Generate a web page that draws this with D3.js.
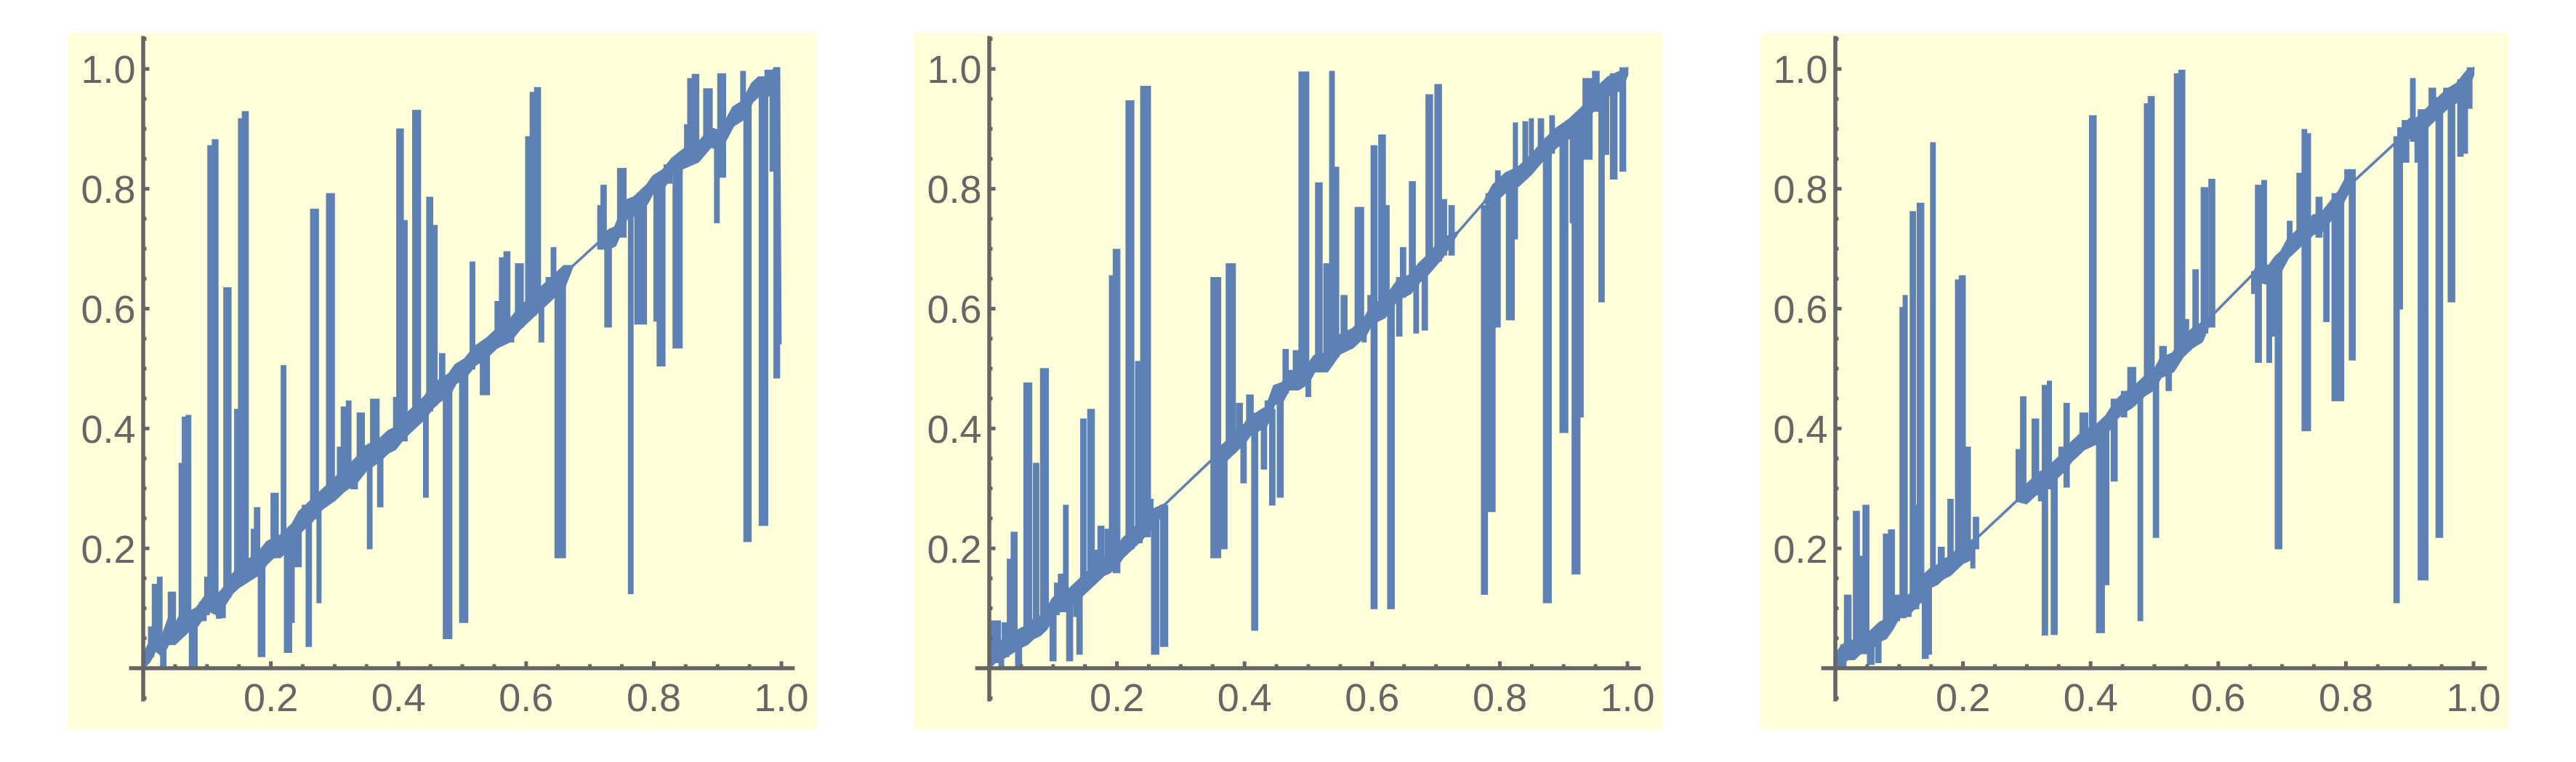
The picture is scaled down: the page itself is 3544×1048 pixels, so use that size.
<!DOCTYPE html>
<html>
<head>
<meta charset="utf-8">
<script src="https://cdn.jsdelivr.net/npm/d3@7"></script>
<style>
  body { margin: 0; background: #ffffff; }
  svg { display: block; }
</style>
</head>
<body>
<svg></svg>
<script>
// Tick values (same for both axes of every panel)
let majorTicks = [0.2, 0.4, 0.6, 0.8, 1.0];
let minorTicksX = [0.05, 0.1, 0.15, 0.25, 0.3, 0.35, 0.45, 0.5, 0.55, 0.65, 0.7, 0.75, 0.85, 0.9, 0.95];
let minorTicksY = [-0.05, 0.05, 0.1, 0.15, 0.25, 0.3, 0.35, 0.45, 0.5, 0.55, 0.65, 0.7, 0.75, 0.85, 0.9, 0.95, 1.05];

// Panel 1: dense core of the line [x, low, high] and spikes [x0, x1, low, high]
let core1 = [
  [0, 0.0, 0.02], [0.01, 0.01, 0.04], [0.02, 0.03, 0.06], [0.03, 0.02, 0.05], [0.04, 0.04, 0.08], [0.05, 0.04, 0.07],
  [0.06, 0.05, 0.09], [0.07, 0.06, 0.09], [0.085, 0.07, 0.1], [0.095, 0.085, 0.115], [0.105, 0.095, 0.13],
  [0.115, 0.09, 0.12], [0.125, 0.1, 0.13], [0.14, 0.125, 0.155], [0.15, 0.135, 0.165], [0.165, 0.145, 0.18],
  [0.18, 0.155, 0.19], [0.195, 0.175, 0.21], [0.205, 0.185, 0.215], [0.215, 0.185, 0.22], [0.235, 0.205, 0.24],
  [0.245, 0.225, 0.26], [0.255, 0.235, 0.27], [0.265, 0.245, 0.28], [0.28, 0.265, 0.295], [0.3, 0.28, 0.315],
  [0.315, 0.295, 0.33], [0.335, 0.31, 0.35], [0.35, 0.33, 0.37], [0.37, 0.345, 0.38], [0.385, 0.36, 0.395],
  [0.395, 0.365, 0.4], [0.41, 0.385, 0.42], [0.42, 0.395, 0.43], [0.44, 0.415, 0.45], [0.455, 0.435, 0.47],
  [0.465, 0.445, 0.48], [0.48, 0.455, 0.49], [0.49, 0.475, 0.505], [0.505, 0.485, 0.515], [0.52, 0.505, 0.535],
  [0.54, 0.52, 0.55], [0.555, 0.535, 0.565], [0.575, 0.545, 0.58], [0.59, 0.565, 0.6], [0.6, 0.575, 0.61],
  [0.625, 0.6, 0.635], [0.64, 0.615, 0.65], [0.66, 0.635, 0.67], [0.673, 0.67, 0.67], [0.714, 0.71, 0.71],
  [0.73, 0.7, 0.73], [0.74, 0.705, 0.735], [0.758, 0.75, 0.78], [0.77, 0.755, 0.785], [0.79, 0.775, 0.805],
  [0.8, 0.795, 0.82], [0.815, 0.8, 0.83], [0.83, 0.825, 0.85], [0.848, 0.835, 0.865], [0.87, 0.845, 0.875],
  [0.89, 0.87, 0.9], [0.905, 0.865, 0.895], [0.915, 0.885, 0.915], [0.925, 0.905, 0.935], [0.94, 0.915, 0.945],
  [0.955, 0.945, 0.975], [0.965, 0.955, 0.985], [0.98, 0.955, 0.985], [0.99, 0.975, 1.0], [0.9966, 0.98, 1.0],
  [0.999, 0.54, 0.54]
];
let spikes1 = [
  [0.010, 0.016, 0.02, 0.067], [0.016, 0.022, 0.03, 0.138], [0.024, 0.029, 0.04, 0.15], [0.029, 0.035, 0.0, 0.04],
  [0.041, 0.050, 0.05, 0.125], [0.058, 0.063, 0.06, 0.34], [0.063, 0.069, 0.06, 0.417], [0.069, 0.074, 0.07, 0.42],
  [0.074, 0.084, 0.0, 0.08], [0.090, 0.098, 0.08, 0.108], [0.098, 0.103, 0.09, 0.15], [0.103, 0.109, 0.1, 0.87],
  [0.110, 0.1166, 0.1, 0.88], [0.1166, 0.122, 0.084, 0.12], [0.122, 0.128, 0.085, 0.12], [0.128, 0.137, 0.12, 0.633],
  [0.145, 0.151, 0.14, 0.43], [0.151, 0.157, 0.14, 0.915], [0.157, 0.164, 0.15, 0.927], [0.171, 0.176, 0.16, 0.23],
  [0.176, 0.182, 0.16, 0.266], [0.182, 0.19, 0.02, 0.18], [0.202, 0.211, 0.19, 0.29], [0.218, 0.223, 0.2, 0.503],
  [0.223, 0.232, 0.027, 0.21], [0.232, 0.236, 0.077, 0.22], [0.236, 0.247, 0.17, 0.24], [0.251, 0.257, 0.24, 0.27],
  [0.257, 0.263, 0.037, 0.26], [0.264, 0.274, 0.25, 0.764], [0.274, 0.278, 0.11, 0.27], [0.289, 0.299, 0.28, 0.79],
  [0.306, 0.312, 0.3, 0.367], [0.312, 0.318, 0.3, 0.434], [0.32, 0.325, 0.31, 0.444], [0.327, 0.335, 0.3, 0.34],
  [0.337, 0.346, 0.33, 0.424], [0.353, 0.358, 0.2, 0.35], [0.358, 0.369, 0.35, 0.447], [0.369, 0.375, 0.27, 0.36],
  [0.394, 0.399, 0.38, 0.45], [0.399, 0.407, 0.39, 0.898], [0.407, 0.413, 0.38, 0.745], [0.424, 0.434, 0.41, 0.929],
  [0.441, 0.446, 0.286, 0.43], [0.446, 0.453, 0.43, 0.784], [0.453, 0.46, 0.44, 0.737], [0.466, 0.472, 0.46, 0.523],
  [0.472, 0.483, 0.05, 0.47], [0.4975, 0.508, 0.077, 0.5], [0.514, 0.519, 0.5, 0.676], [0.530, 0.542, 0.457, 0.53],
  [0.553, 0.560, 0.54, 0.61], [0.560, 0.567, 0.55, 0.683], [0.567, 0.574, 0.55, 0.693], [0.574, 0.58, 0.545, 0.57],
  [0.585, 0.595, 0.57, 0.673], [0.601, 0.608, 0.59, 0.885], [0.608, 0.615, 0.59, 0.959], [0.615, 0.622, 0.6, 0.967],
  [0.622, 0.627, 0.545, 0.62], [0.633, 0.640, 0.62, 0.65], [0.641, 0.646, 0.62, 0.70], [0.647, 0.661, 0.185, 0.65],
  [0.714, 0.719, 0.70, 0.77], [0.719, 0.725, 0.70, 0.804], [0.725, 0.733, 0.57, 0.72], [0.745, 0.756, 0.72, 0.832],
  [0.762, 0.767, 0.125, 0.77], [0.772, 0.788, 0.575, 0.78], [0.802, 0.807, 0.58, 0.81], [0.807, 0.817, 0.505, 0.81],
  [0.818, 0.828, 0.81, 0.838], [0.832, 0.844, 0.535, 0.84], [0.850, 0.855, 0.85, 0.905], [0.855, 0.862, 0.85, 0.982],
  [0.862, 0.870, 0.85, 0.989], [0.880, 0.891, 0.87, 0.965], [0.897, 0.902, 0.744, 0.89], [0.902, 0.912, 0.82, 0.99],
  [0.938, 0.943, 0.93, 0.994], [0.943, 0.952, 0.212, 0.94], [0.967, 0.978, 0.239, 0.97], [0.976, 0.984, 0.96, 0.996],
  [0.984, 0.990, 0.83, 0.98], [0.990, 0.9966, 0.485, 1.0]
];

// Panel 2
let core2 = [
  [0, 0.0, 0.02], [0.01, 0.01, 0.035], [0.02, 0.015, 0.045], [0.035, 0.025, 0.055], [0.05, 0.035, 0.065],
  [0.06, 0.04, 0.07], [0.07, 0.05, 0.08], [0.08, 0.055, 0.085], [0.09, 0.065, 0.095], [0.1, 0.085, 0.115],
  [0.11, 0.095, 0.125], [0.12, 0.095, 0.125], [0.13, 0.105, 0.135], [0.14, 0.115, 0.145], [0.15, 0.125, 0.155],
  [0.16, 0.135, 0.165], [0.17, 0.145, 0.175], [0.18, 0.155, 0.185], [0.19, 0.16, 0.19], [0.2, 0.17, 0.2],
  [0.21, 0.185, 0.215], [0.22, 0.195, 0.225], [0.23, 0.205, 0.235], [0.24, 0.215, 0.245], [0.25, 0.23, 0.26],
  [0.26, 0.235, 0.265], [0.276, 0.273, 0.273], [0.349, 0.347, 0.347], [0.36, 0.335, 0.365], [0.37, 0.345, 0.375],
  [0.38, 0.355, 0.385], [0.39, 0.365, 0.395], [0.4, 0.375, 0.405], [0.41, 0.39, 0.42], [0.42, 0.395, 0.425],
  [0.435, 0.405, 0.435], [0.447, 0.44, 0.47], [0.46, 0.445, 0.475], [0.47, 0.465, 0.495], [0.485, 0.465, 0.495],
  [0.5, 0.475, 0.505], [0.51, 0.495, 0.52], [0.53, 0.495, 0.525], [0.55, 0.525, 0.555], [0.57, 0.535, 0.565],
  [0.59, 0.555, 0.585], [0.6, 0.575, 0.605], [0.62, 0.585, 0.615], [0.64, 0.615, 0.645], [0.66, 0.625, 0.655],
  [0.675, 0.645, 0.675], [0.69, 0.66, 0.69], [0.71, 0.685, 0.715], [0.735, 0.727, 0.727], [0.776, 0.777, 0.777],
  [0.79, 0.775, 0.805], [0.81, 0.795, 0.825], [0.83, 0.805, 0.835], [0.85, 0.825, 0.855], [0.87, 0.85, 0.88],
  [0.89, 0.87, 0.9], [0.91, 0.885, 0.915], [0.93, 0.905, 0.935], [0.95, 0.935, 0.965], [0.97, 0.955, 0.985],
  [0.99, 0.965, 0.995], [1.0, 0.99, 1.0]
];
let spikes2 = [
  [0.005, 0.017, 0.01, 0.077], [0.017, 0.022, 0.0, 0.03], [0.022, 0.030, 0.02, 0.074], [0.030, 0.036, 0.03, 0.18],
  [0.036, 0.043, 0.03, 0.225], [0.043, 0.050, 0.0, 0.05], [0.056, 0.066, 0.05, 0.474], [0.071, 0.077, 0.06, 0.34],
  [0.082, 0.092, 0.07, 0.498], [0.097, 0.104, 0.013, 0.1], [0.104, 0.109, 0.09, 0.14], [0.110, 0.116, 0.1, 0.155],
  [0.118, 0.123, 0.1, 0.27], [0.123, 0.130, 0.013, 0.12], [0.134, 0.138, 0.087, 0.12], [0.139, 0.145, 0.024, 0.13],
  [0.145, 0.151, 0.13, 0.414], [0.156, 0.164, 0.14, 0.43], [0.166, 0.171, 0.15, 0.195], [0.172, 0.179, 0.16, 0.235],
  [0.183, 0.189, 0.17, 0.23], [0.190, 0.196, 0.18, 0.653], [0.196, 0.204, 0.16, 0.697], [0.216, 0.226, 0.2, 0.945],
  [0.231, 0.239, 0.21, 0.51], [0.239, 0.252, 0.22, 0.969], [0.252, 0.256, 0.24, 0.28], [0.256, 0.265, 0.024, 0.25],
  [0.270, 0.279, 0.037, 0.27], [0.349, 0.362, 0.185, 0.65], [0.362, 0.372, 0.2, 0.36], [0.373, 0.385, 0.36, 0.673],
  [0.389, 0.396, 0.37, 0.44], [0.396, 0.402, 0.31, 0.4], [0.405, 0.413, 0.39, 0.454], [0.413, 0.420, 0.064, 0.41],
  [0.428, 0.434, 0.333, 0.42], [0.434, 0.441, 0.41, 0.444], [0.441, 0.447, 0.273, 0.43], [0.453, 0.460, 0.286, 0.45],
  [0.462, 0.468, 0.46, 0.53], [0.478, 0.485, 0.47, 0.528], [0.487, 0.500, 0.48, 0.993], [0.498, 0.503, 0.454, 0.5],
  [0.513, 0.521, 0.5, 0.808], [0.526, 0.532, 0.51, 0.673], [0.535, 0.540, 0.52, 0.994], [0.540, 0.547, 0.52, 0.834],
  [0.553, 0.560, 0.54, 0.62], [0.575, 0.586, 0.55, 0.767], [0.586, 0.590, 0.545, 0.58], [0.595, 0.600, 0.58, 0.62],
  [0.600, 0.607, 0.1, 0.87], [0.612, 0.620, 0.6, 0.888], [0.621, 0.626, 0.6, 0.77], [0.626, 0.634, 0.1, 0.62],
  [0.640, 0.646, 0.555, 0.65], [0.646, 0.652, 0.62, 0.7], [0.660, 0.667, 0.63, 0.81], [0.667, 0.672, 0.56, 0.65],
  [0.680, 0.686, 0.565, 0.67], [0.686, 0.694, 0.67, 0.955], [0.700, 0.708, 0.68, 0.972], [0.710, 0.716, 0.69, 0.78],
  [0.722, 0.728, 0.69, 0.77], [0.773, 0.780, 0.124, 0.77], [0.780, 0.792, 0.262, 0.79], [0.795, 0.800, 0.57, 0.828],
  [0.812, 0.822, 0.582, 0.81], [0.823, 0.827, 0.717, 0.908], [0.838, 0.843, 0.82, 0.91], [0.848, 0.852, 0.83, 0.915],
  [0.862, 0.868, 0.85, 0.915], [0.870, 0.880, 0.11, 0.87], [0.880, 0.885, 0.86, 0.92], [0.896, 0.906, 0.394, 0.89],
  [0.912, 0.915, 0.744, 0.9], [0.915, 0.925, 0.158, 0.91], [0.925, 0.930, 0.42, 0.92], [0.932, 0.944, 0.85, 0.982],
  [0.947, 0.955, 0.93, 0.994], [0.957, 0.963, 0.612, 0.95], [0.965, 0.970, 0.858, 0.97], [0.975, 0.983, 0.817, 0.99],
  [0.990, 0.9966, 0.83, 1.0]
];

// Panel 3
let core3 = [
  [0, 0.0, 0.02], [0.01, 0.005, 0.035], [0.02, 0.015, 0.045], [0.03, 0.015, 0.045], [0.04, 0.025, 0.055],
  [0.05, 0.025, 0.055], [0.06, 0.035, 0.065], [0.07, 0.045, 0.075], [0.08, 0.05, 0.08], [0.09, 0.065, 0.095],
  [0.1, 0.085, 0.115], [0.11, 0.085, 0.115], [0.12, 0.095, 0.125], [0.13, 0.105, 0.135], [0.14, 0.125, 0.155],
  [0.15, 0.135, 0.165], [0.16, 0.14, 0.17], [0.17, 0.15, 0.18], [0.18, 0.155, 0.185], [0.19, 0.165, 0.195],
  [0.2, 0.175, 0.205], [0.21, 0.18, 0.21], [0.221, 0.215, 0.215], [0.285, 0.279, 0.279], [0.3, 0.275, 0.305],
  [0.31, 0.285, 0.315], [0.32, 0.295, 0.325], [0.335, 0.305, 0.335], [0.35, 0.32, 0.35], [0.36, 0.33, 0.36],
  [0.37, 0.345, 0.375], [0.38, 0.355, 0.385], [0.39, 0.365, 0.395], [0.4, 0.37, 0.4], [0.41, 0.375, 0.405],
  [0.425, 0.39, 0.42], [0.44, 0.415, 0.445], [0.45, 0.425, 0.455], [0.465, 0.435, 0.465], [0.475, 0.445, 0.475],
  [0.485, 0.455, 0.485], [0.5, 0.465, 0.495], [0.51, 0.485, 0.515], [0.53, 0.495, 0.525], [0.545, 0.52, 0.55],
  [0.56, 0.535, 0.565], [0.575, 0.545, 0.575], [0.592, 0.589, 0.589], [0.654, 0.656, 0.656], [0.665, 0.645, 0.675],
  [0.68, 0.64, 0.67], [0.69, 0.655, 0.685], [0.7, 0.665, 0.695], [0.71, 0.685, 0.715], [0.72, 0.695, 0.725],
  [0.74, 0.715, 0.745], [0.75, 0.725, 0.755], [0.76, 0.725, 0.755], [0.775, 0.745, 0.775], [0.79, 0.765, 0.795],
  [0.8, 0.785, 0.815], [0.815, 0.814, 0.814], [0.877, 0.875, 0.875], [0.89, 0.87, 0.9], [0.9, 0.885, 0.915],
  [0.91, 0.885, 0.915], [0.93, 0.905, 0.935], [0.95, 0.925, 0.955], [0.96, 0.935, 0.965], [0.975, 0.945, 0.975],
  [0.99, 0.965, 0.995], [1.0, 0.99, 1.0]
];
let spikes3 = [
  [0.010, 0.016, 0.0, 0.037], [0.016, 0.024, 0.02, 0.12], [0.030, 0.037, 0.03, 0.26], [0.037, 0.045, 0.03, 0.185],
  [0.045, 0.052, 0.04, 0.27], [0.052, 0.060, 0.007, 0.05], [0.065, 0.071, 0.01, 0.06], [0.077, 0.084, 0.06, 0.222],
  [0.085, 0.092, 0.07, 0.229], [0.095, 0.100, 0.08, 0.12], [0.103, 0.108, 0.09, 0.6], [0.108, 0.112, 0.09, 0.62],
  [0.112, 0.118, 0.087, 0.11], [0.119, 0.125, 0.1, 0.76], [0.125, 0.130, 0.1, 0.27], [0.130, 0.138, 0.11, 0.774],
  [0.138, 0.145, 0.017, 0.13], [0.146, 0.150, 0.024, 0.14], [0.151, 0.156, 0.14, 0.875], [0.163, 0.170, 0.15, 0.2],
  [0.178, 0.184, 0.16, 0.28], [0.184, 0.189, 0.168, 0.19], [0.190, 0.196, 0.18, 0.646], [0.196, 0.203, 0.18, 0.653],
  [0.205, 0.211, 0.19, 0.367], [0.214, 0.218, 0.168, 0.21], [0.218, 0.224, 0.2, 0.25], [0.285, 0.292, 0.28, 0.363],
  [0.292, 0.298, 0.28, 0.451], [0.310, 0.318, 0.29, 0.414], [0.320, 0.325, 0.28, 0.31], [0.326, 0.332, 0.056, 0.47],
  [0.334, 0.338, 0.3, 0.477], [0.340, 0.347, 0.057, 0.32], [0.352, 0.358, 0.33, 0.367], [0.360, 0.366, 0.303, 0.44],
  [0.385, 0.395, 0.37, 0.424], [0.400, 0.408, 0.38, 0.92], [0.411, 0.421, 0.06, 0.39], [0.421, 0.428, 0.14, 0.4],
  [0.434, 0.441, 0.313, 0.447], [0.450, 0.456, 0.42, 0.46], [0.460, 0.470, 0.44, 0.5], [0.476, 0.481, 0.08, 0.47],
  [0.486, 0.492, 0.47, 0.94], [0.492, 0.499, 0.47, 0.952], [0.500, 0.506, 0.219, 0.49], [0.510, 0.518, 0.5, 0.535],
  [0.520, 0.526, 0.464, 0.52], [0.533, 0.539, 0.52, 0.99], [0.540, 0.547, 0.53, 0.996], [0.547, 0.553, 0.54, 0.58],
  [0.562, 0.568, 0.55, 0.663], [0.575, 0.583, 0.56, 0.8], [0.587, 0.594, 0.57, 0.814], [0.654, 0.658, 0.626, 0.66],
  [0.660, 0.667, 0.511, 0.804], [0.670, 0.675, 0.65, 0.812], [0.678, 0.683, 0.511, 0.66], [0.685, 0.690, 0.555, 0.67],
  [0.691, 0.699, 0.2, 0.68], [0.710, 0.715, 0.7, 0.744], [0.725, 0.730, 0.71, 0.824], [0.733, 0.738, 0.397, 0.897],
  [0.738, 0.744, 0.397, 0.89], [0.755, 0.762, 0.72, 0.784], [0.767, 0.773, 0.579, 0.75], [0.780, 0.788, 0.447, 0.79],
  [0.788, 0.796, 0.447, 0.78], [0.800, 0.805, 0.8, 0.83], [0.807, 0.814, 0.515, 0.83], [0.877, 0.883, 0.11, 0.885],
  [0.883, 0.888, 0.6, 0.9], [0.890, 0.898, 0.845, 0.912], [0.903, 0.908, 0.88, 0.982], [0.910, 0.914, 0.845, 0.9],
  [0.915, 0.928, 0.148, 0.93], [0.932, 0.940, 0.92, 0.966], [0.943, 0.951, 0.219, 0.95], [0.955, 0.960, 0.94, 0.966],
  [0.962, 0.970, 0.612, 0.96], [0.977, 0.983, 0.855, 0.98], [0.985, 0.990, 0.86, 0.98], [0.992, 0.997, 0.935, 1.0]
];

let panels = [
  { core: core1, spikes: spikes1 },
  { core: core2, spikes: spikes2 },
  { core: core3, spikes: spikes3 }
];

let width = 3544;
let height = 1048;
let panelStep = 1164;
let lineColor = "#5e81b5";
let axisColor = "#666666";

let svg = d3.select("svg").attr("width", width).attr("height", height);

// plot range includes the small padding Mathematica adds around the data
let xScale = d3.scaleLinear().domain([-0.0219, 1.0207]).range([177.3, 1092.7]);
let yScale = d3.scaleLinear().domain([-0.0552, 1.0546]).range([964, 49.3]);

let drawPanel = (panel, i) => {
  let g = svg.append("g").attr("transform", "translate(" + i * panelStep + ",0)");

  g.append("rect")
    .attr("x", 93)
    .attr("y", 46)
    .attr("width", 1030)
    .attr("height", 957)
    .attr("fill", "#ffffd9");

  // spikes
  g.selectAll("rect.spike")
    .data(panel.spikes)
    .enter()
    .append("rect")
    .attr("class", "spike")
    .attr("x", (d) => xScale(d[0]))
    .attr("width", (d) => xScale(d[1]) - xScale(d[0]))
    .attr("y", (d) => yScale(d[3]))
    .attr("height", (d) => yScale(d[2]) - yScale(d[3]))
    .attr("fill", lineColor)
    .attr("stroke", lineColor)
    .attr("stroke-width", 3.5);

  // the dense core of the line, thin where the line runs straight
  let band = d3.area()
    .x((d) => xScale(d[0]))
    .y0((d) => yScale(d[1]))
    .y1((d) => yScale(d[2]));

  g.append("path")
    .datum(panel.core)
    .attr("d", band)
    .attr("fill", lineColor)
    .attr("stroke", lineColor)
    .attr("stroke-width", 3.5);

  // axes: minor ticks first, then major ticks with labels
  let xMinor = d3.axisBottom(xScale).tickValues(minorTicksX).tickSizeInner(-5).tickSizeOuter(0).tickFormat("");
  let xMajor = d3.axisBottom(xScale).tickValues(majorTicks).tickSizeInner(-9).tickSizeOuter(0)
    .tickPadding(21).tickFormat(d3.format(".1f"));
  let yMinor = d3.axisLeft(yScale).tickValues(minorTicksY).tickSizeInner(-5).tickSizeOuter(0).tickFormat("");
  let yMajor = d3.axisLeft(yScale).tickValues(majorTicks).tickSizeInner(-9).tickSizeOuter(0)
    .tickPadding(10).tickFormat(d3.format(".1f"));

  [xMinor, xMajor].forEach((ax) => {
    g.append("g")
      .attr("class", "x-axis")
      .attr("transform", "translate(0," + yScale(0) + ")")
      .call(ax);
  });
  [yMinor, yMajor].forEach((ax) => {
    g.append("g")
      .attr("class", "y-axis")
      .attr("transform", "translate(" + xScale(0) + ",0)")
      .call(ax);
  });
};

panels.forEach(drawPanel);

svg.selectAll(".x-axis, .y-axis")
  .attr("font-family", "'Liberation Sans', Arial, sans-serif")
  .attr("font-size", 54);
svg.selectAll(".x-axis path, .y-axis path, .x-axis line, .y-axis line")
  .attr("stroke", axisColor)
  .attr("stroke-width", 5);
svg.selectAll(".x-axis text, .y-axis text").attr("fill", axisColor);
svg.selectAll(".y-axis text").attr("dy", "0.36em");
</script>
</body>
</html>
